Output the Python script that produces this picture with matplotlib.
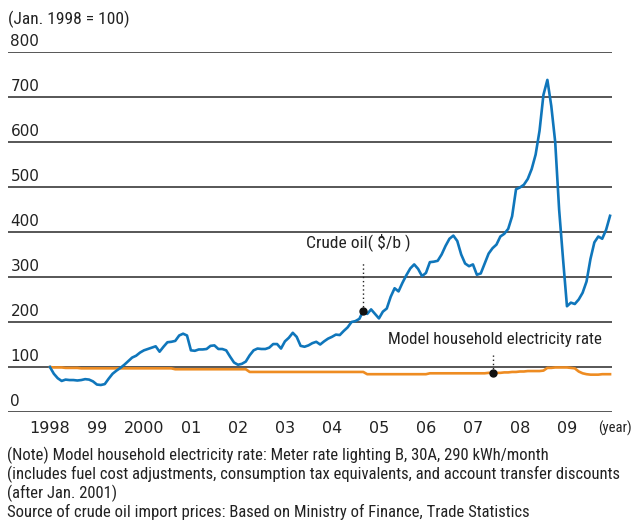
import matplotlib
matplotlib.use('Agg')

import matplotlib.pyplot as plt
from matplotlib import font_manager
import numpy as np

# monthly index, Jan. 1998 = 100 (Jan 1998 .. Dec 2009)
crude_oil = [
    100, 85, 75, 69, 72, 71, 71, 70, 71, 73, 72, 68,        # 1998
    61, 60, 62, 74, 85, 92, 98, 105, 113, 121, 125, 132,    # 1999
    137, 140, 143, 146, 134, 145, 155, 156, 158, 170, 174, 170,  # 2000
    137, 136, 139, 139, 140, 147, 148, 140, 140, 137, 123, 110,  # 2001
    105, 107, 112, 126, 137, 141, 140, 140, 143, 151, 151, 141,  # 2002
    157, 165, 176, 167, 147, 145, 148, 153, 156, 150, 157, 163,  # 2003
    167, 172, 171, 180, 188, 200, 202, 207, 225, 218, 228, 218,  # 2004
    208, 223, 230, 256, 275, 268, 287, 304, 319, 328, 318, 302,  # 2005
    309, 333, 334, 336, 350, 369, 385, 392, 380, 350, 330, 324,  # 2006
    328, 305, 308, 330, 352, 364, 372, 390, 396, 407, 435, 495,  # 2007
    499, 505, 518, 540, 572, 625, 705, 738, 680, 600, 450, 340,  # 2008
    235, 243, 240, 250, 265, 290, 340, 377, 390, 385, 405, 436,  # 2009
]

electricity = [
    100, 99, 99, 99, 98, 98, 98, 98, 97, 97, 97, 97,
    97, 97, 97, 97, 97, 97, 97, 97, 97, 97, 97, 97,
    97, 97, 97, 97, 97, 97, 97, 97, 95, 95, 95, 95,
    95, 95, 95, 95, 95, 95, 95, 95, 95, 95, 95, 95,
    95, 95, 95, 89, 89, 89, 89, 89, 89, 89, 89, 89,
    89, 89, 89, 89, 89, 89, 89, 89, 89, 89, 89, 89,
    89, 89, 89, 89, 89, 89, 89, 89, 89, 84, 84, 84,
    84, 84, 84, 84, 84, 84, 84, 84, 84, 84, 84, 84,
    84, 86, 86, 86, 86, 86, 86, 86, 86, 86, 86, 86,
    86, 86, 86, 86, 87, 87, 87, 87, 88, 88, 89, 89,
    90, 90, 91, 91, 91, 91, 92, 98, 98, 99, 99, 99,
    99, 98, 97, 90, 86, 84, 83, 83, 83, 84, 84, 84,
]

year_labels = ['1998', '99', '2000', '01', '02', '03', '04', '05', '06', '07', '08', '09']
y_ticks = [0, 100, 200, 300, 400, 500, 600, 700, 800]

oil_note_month = 80     # Sep 2004
elec_note_month = 113   # Jun 2007

note_lines = [
    "(Note) Model household electricity rate: Meter rate lighting B, 30A, 290 kWh/month",
    "(includes fuel cost adjustments, consumption tax equivalents, and account transfer discounts",
    "(after Jan. 2001)",
    "Source of crude oil import prices: Based on Ministry of Finance, Trade Statistics",
]

BLUE = '#0f76bb'
ORANGE = '#ee8c22'
GRID = '#3a3a3a'
TXT = '#222222'


def pick_narrow():
    # prefer a condensed face for the captions, fall back to Liberation Sans
    for fam in ['Roboto Condensed', 'Liberation Sans Narrow', 'Open Sans Condensed']:
        try:
            font_manager.findfont(font_manager.FontProperties(family=fam),
                                  fallback_to_default=False)
            return [fam, 'DejaVu Sans'], 1.0
        except ValueError:
            pass
    return ['Liberation Sans', 'DejaVu Sans'], 0.84


NARROW, nscale = pick_narrow()

W, H = 633, 521
fig = plt.figure(figsize=(W / 100, H / 100), dpi=100)

def fx(x):
    return x / W

def fy(y):
    return 1 - y / H

ax = fig.add_axes([fx(8), fy(412), fx(612) - fx(8), fy(52) - fy(412)])
months = np.arange(len(crude_oil))

ax.set_xlim(-10.7, 143.5)
ax.set_ylim(0, 800)
for s in ax.spines.values():
    s.set_visible(False)
ax.set_xticks([])
ax.set_yticks([])

for v in y_ticks:
    ax.axhline(v, color=GRID, lw=1.2, zorder=1)
    ax.text(0.004, v + 7, str(v), transform=ax.get_yaxis_transform(),
            ha='left', va='bottom', fontsize=11, color=TXT)

ax.plot(months, electricity, color=ORANGE, lw=1.9, zorder=3, solid_joinstyle='round')
ax.plot(months, crude_oil, color=BLUE, lw=1.9, zorder=4, solid_joinstyle='round')

# callouts
ov = crude_oil[oil_note_month]
ax.plot([oil_note_month, oil_note_month], [ov, ov + 110], ls=(0, (1, 2)), color=TXT, lw=1, zorder=5)
ax.plot(oil_note_month, ov, 'o', color='#111111', ms=5, zorder=6)
ax.text(92, ov + 133, 'Crude oil( $/b )', ha='right', va='bottom',
        fontsize=12.6 * nscale, family=NARROW, color=TXT)

ev = electricity[elec_note_month]
ax.plot([elec_note_month, elec_note_month], [ev, ev + 40], ls=(0, (1, 2)), color=TXT, lw=1, zorder=5)
ax.plot(elec_note_month, ev, 'o', color='#111111', ms=5, zorder=6)
ax.text(141, ev + 58, 'Model household electricity rate', ha='right', va='bottom',
        fontsize=12.2 * nscale, family=NARROW, color=TXT)

# year labels under the axis
for i, lab in enumerate(year_labels):
    ax.text(12 * i, -36, lab, transform=ax.transData, ha='center', va='center',
            fontsize=11.5, color=TXT, clip_on=False)
fig.text(fx(598), fy(428), '(year)', ha='left', va='center', fontsize=10.5 * nscale,
         family=NARROW, color=TXT)

fig.text(fx(8), fy(19), '(Jan. 1998 = 100)', ha='left', va='center', fontsize=12.5 * nscale,
         family=NARROW, color=TXT)

for i, line in enumerate(note_lines):
    fig.text(fx(7), fy(455 + 19 * i), line, ha='left', va='center', fontsize=12.0 * nscale,
             family=NARROW, color=TXT)

fig.savefig('out.png', dpi=100)
